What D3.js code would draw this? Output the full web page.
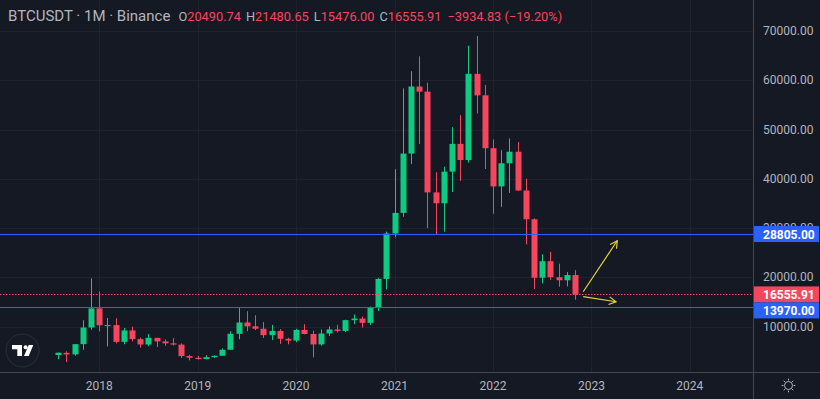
<!DOCTYPE html>
<html lang="en">
<head>
<meta charset="UTF-8">
<title>BTCUSDT 1M</title>
<script src="https://d3js.org/d3.v7.min.js"></script>
<style>
    body { margin: 0; background: #151924; }
    svg { display: block; font-family: Roboto, "Noto Sans", sans-serif; }
</style>
</head>
<body>
<svg id="chart" width="820" height="399"></svg>
<script>
    // monthly candles, Aug 2017 .. Nov 2022
    var firstMonth = "2017-08";
    var open = [4261.48, 4689.89, 4378.49, 6463.00, 9837.00,
        13715.65, 10285.10, 10325.64, 6922.00, 9246.01, 7485.01, 6391.08, 7735.67, 7011.21, 6626.57, 6369.52, 4041.27,
        3701.23, 3434.10, 3814.26, 4102.44, 5321.94, 8555.00, 10854.10, 10080.53, 9588.74, 8289.97, 9140.86, 7540.63,
        7195.24, 9351.71, 8523.61, 6412.14, 8620.00, 9448.27, 9138.08, 11335.46, 11649.51, 10776.59, 13791.00, 19695.87,
        28923.63, 33092.97, 45134.11, 58739.46, 57697.25, 37254.24, 35045.00, 41461.84, 47100.89, 43820.01, 61299.81, 56950.56,
        46216.93, 38466.90, 43160.00, 45510.35, 37631.83, 31801.05, 19942.21, 23296.36, 20048.44, 19422.61, 20490.74];
    var high = [4745.42, 5000.00, 6470.00, 11300.00, 19798.68,
        17176.24, 11786.01, 11711.47, 9759.82, 10020.00, 7786.69, 8491.77, 7750.00, 7410.00, 7680.00, 6615.15, 4312.99,
        4069.80, 4198.00, 4140.00, 5600.00, 9074.26, 13970.00, 13147.08, 12325.00, 10939.92, 10370.00, 9513.68, 7750.00,
        9578.00, 10500.00, 9188.00, 9460.00, 10067.00, 10380.00, 11444.00, 12468.00, 12050.85, 14100.00, 19863.16, 29300.00,
        41950.00, 58352.80, 61844.00, 64854.00, 59500.00, 41330.00, 42448.00, 50500.00, 52920.00, 67000.00, 69000.00, 59053.55,
        47990.00, 45821.00, 48189.84, 47444.11, 40023.77, 31982.97, 24668.00, 25211.32, 22799.00, 21085.00, 21480.65];
    var low = [3400.00, 2817.00, 4110.00, 5325.01, 9380.00,
        9035.00, 6000.01, 6600.10, 6430.00, 7032.95, 5750.00, 6070.00, 5880.00, 6111.00, 6205.00, 3652.66, 3156.26,
        3349.92, 3373.10, 3670.69, 4067.00, 5316.20, 7444.58, 9060.00, 9320.00, 7710.00, 7300.00, 6515.00, 6435.00,
        6871.04, 8445.00, 3782.13, 6150.11, 8117.00, 8833.00, 8893.03, 10518.50, 9825.00, 10374.00, 13195.05, 17572.33,
        28130.00, 32296.16, 43000.00, 47044.01, 30000.00, 28805.00, 29278.00, 37332.70, 39600.00, 43283.03, 53256.64, 42000.30,
        32917.17, 34322.28, 37155.00, 37578.20, 26700.00, 17622.00, 18781.00, 19520.00, 18125.98, 18190.00, 15476.00];
    var close = [4724.89, 4378.51, 6463.00, 9838.96, 13716.36,
        10285.10, 10326.50, 6923.91, 9246.01, 7485.01, 6390.07, 7730.93, 7011.21, 6626.57, 6371.93, 4041.32, 3702.90,
        3434.10, 3813.69, 4105.40, 5320.81, 8555.00, 10854.10, 10080.53, 9588.74, 8289.34, 9140.85, 7546.60, 7195.23,
        9352.89, 8523.61, 6410.44, 8620.00, 9448.27, 9138.55, 11335.46, 11649.51, 10776.59, 13791.00, 19695.87, 28923.63,
        33092.98, 45135.66, 58740.55, 57694.27, 37253.81, 35045.00, 41461.83, 47100.89, 43824.10, 61299.80, 56950.56, 46216.93,
        38466.90, 43160.00, 45510.34, 37630.80, 31801.04, 19942.21, 23293.32, 20050.02, 19422.61, 20490.74, 16555.91];

    var yearLabels = ["2018", "2019", "2020", "2021", "2022", "2023", "2024"];
    var priceTicks = [10000, 20000, 30000, 40000, 50000, 60000, 70000];

    // horizontal levels drawn on the chart
    var blueLevels = [28805.00, 13970.00];
    // yellow arrows: [month index, price]
    var arrows = [
        {from: [64.0, 17100], to: [68.15, 27450]},
        {from: [64.0, 16090], to: [68.0, 15070]}
    ];

    var W = 820, H = 399;
    var plotRight = 753, plotBottom = 372;
    var green = "#0ecb81", red = "#f6465d", blue = "#2962ff";
    var textGrey = "#b2b5be", gridCol = "#1f2330", lineCol = "#434651";

    var candles = open.map(function (o, i) {
        return {i: i, o: o, h: high[i], l: low[i], c: close[i]};
    });

    var x = d3.scaleLinear().domain([-7.1, 84.7]).range([0, plotRight]);
    var y = d3.scaleLinear().domain([0, 70000]).range([376, 31]);

    var svg = d3.select('#chart');
    svg.append('rect').attr('width', W).attr('height', H).attr('fill', '#151924');

    // grid
    var startYear = +firstMonth.slice(0, 4), startMon = +firstMonth.slice(5, 7);
    function yearIndex(yr) { return (yr - startYear) * 12 - (startMon - 1); }

    var grid = svg.append('g');
    grid.selectAll('.vg').data(yearLabels).enter().append('line')
        .attr('x1', d => Math.round(x(yearIndex(+d))) + 0.5)
        .attr('x2', d => Math.round(x(yearIndex(+d))) + 0.5)
        .attr('y1', 0).attr('y2', plotBottom)
        .attr('stroke', gridCol);
    grid.selectAll('.hg').data(priceTicks).enter().append('line')
        .attr('x1', 0).attr('x2', plotRight)
        .attr('y1', d => Math.round(y(d)) + 0.5)
        .attr('y2', d => Math.round(y(d)) + 0.5)
        .attr('stroke', gridCol);

    // candles
    var bw = 6;
    var cg = svg.append('g');
    cg.selectAll('line').data(candles).enter().append('line')
        .attr('x1', d => Math.round(x(d.i)) + 0.5)
        .attr('x2', d => Math.round(x(d.i)) + 0.5)
        .attr('y1', d => y(d.h)).attr('y2', d => y(d.l))
        .attr('stroke', d => d.c >= d.o ? green : red);
    cg.selectAll('rect').data(candles).enter().append('rect')
        .attr('x', d => Math.round(x(d.i)) - bw / 2 + 0.5)
        .attr('width', bw)
        .attr('y', d => y(Math.max(d.o, d.c)))
        .attr('height', d => Math.max(1, Math.abs(y(d.o) - y(d.c))))
        .attr('fill', d => d.c >= d.o ? green : red);

    // levels
    var last = candles[candles.length - 1];
    svg.selectAll('.lvl').data(blueLevels).enter().append('line')
        .attr('x1', 0).attr('x2', plotRight)
        .attr('y1', d => Math.round(y(d)) + 0.5).attr('y2', d => Math.round(y(d)) + 0.5)
        .attr('stroke', blue).attr('stroke-width', 1.2);
    svg.append('line')
        .attr('x1', 0).attr('x2', plotRight)
        .attr('y1', Math.round(y(last.c)) + 0.5).attr('y2', Math.round(y(last.c)) + 0.5)
        .attr('stroke', red).attr('stroke-dasharray', '1.5,1.5');

    // arrows
    var ag = svg.append('g').attr('stroke', '#e6d23c').attr('stroke-width', 1.2).attr('fill', 'none');
    arrows.forEach(function (a) {
        var x1 = x(a.from[0]), y1 = y(a.from[1]), x2 = x(a.to[0]), y2 = y(a.to[1]);
        var ang = Math.atan2(y2 - y1, x2 - x1), len = 8;
        ag.append('line').attr('x1', x1).attr('y1', y1).attr('x2', x2).attr('y2', y2);
        ag.append('path').attr('d', 'M' + (x2 - len * Math.cos(ang - 0.5)) + ',' + (y2 - len * Math.sin(ang - 0.5)) +
            'L' + x2 + ',' + y2 +
            'L' + (x2 - len * Math.cos(ang + 0.5)) + ',' + (y2 - len * Math.sin(ang + 0.5)));
    });

    // axis borders
    svg.append('line').attr('x1', 0).attr('x2', W).attr('y1', plotBottom + 0.5).attr('y2', plotBottom + 0.5).attr('stroke', lineCol);
    svg.append('line').attr('x1', plotRight + 0.5).attr('x2', plotRight + 0.5).attr('y1', 0).attr('y2', H).attr('stroke', lineCol);

    // price axis labels
    svg.selectAll('.pt').data(priceTicks).enter().append('text')
        .attr('x', 763).attr('y', d => y(d) + 4)
        .attr('fill', textGrey).attr('font-size', 12)
        .text(d => d3.format('.2f')(d));

    // year labels
    svg.selectAll('.yl').data(yearLabels).enter().append('text')
        .attr('x', d => x(yearIndex(+d))).attr('y', 390)
        .attr('text-anchor', 'middle')
        .attr('fill', textGrey).attr('font-size', 12)
        .text(d => d);

    // price tags on the axis, pushed apart if they overlap
    var tags = blueLevels.map(v => ({v: v, col: blue})).concat([{v: last.c, col: red}]);
    tags.sort((a, b) => y(a.v) - y(b.v));
    var tagH = 16, prevBottom = -Infinity;
    tags.forEach(function (t) {
        t.cy = Math.max(y(t.v), prevBottom + tagH / 2);
        prevBottom = t.cy + tagH / 2;
    });
    var tg = svg.selectAll('.tag').data(tags).enter().append('g');
    tg.append('rect').attr('x', plotRight + 1).attr('width', 65)
        .attr('y', d => d.cy - tagH / 2).attr('height', tagH)
        .attr('fill', d => d.col);
    tg.append('text').attr('x', 763).attr('y', d => d.cy + 4.5)
        .attr('fill', '#fff').attr('font-size', 12).attr('font-weight', 'bold')
        .text(d => d3.format('.2f')(d.v));

    // header
    var prev = candles[candles.length - 2].c;
    var chg = last.c - prev;
    var hdr = svg.append('text').attr('x', 8).attr('y', 21).attr('fill', textGrey);
    hdr.append('tspan').attr('font-size', 15).text('BTCUSDT · 1M · Binance');
    [['O', last.o], ['H', last.h], ['L', last.l], ['C', last.c]].forEach(function (p, k) {
        hdr.append('tspan').attr('dx', k === 0 ? 8 : 5).attr('font-size', 12.8).attr('fill', textGrey).text(p[0]);
        hdr.append('tspan').attr('font-size', 12.8).attr('fill', red).text(d3.format('.2f')(p[1]));
    });
    hdr.append('tspan').attr('dx', 6).attr('font-size', 12.8).attr('fill', red)
        .text(d3.format('.2f')(chg).replace('-', '−') + ' (' + d3.format('.2f')(chg / prev * 100).replace('-', '−') + '%)');

    // TV logo
    var logo = svg.append('g');
    logo.append('circle').attr('cx', 22.5).attr('cy', 350.5).attr('r', 16.5)
        .attr('fill', '#161a25').attr('stroke', '#2a2e39');
    logo.append('path').attr('fill', '#fff')
        .attr('d', 'M12,345h10v11h-4.7v-6.7H12z M24,356h4.7l4.6,-11h-4.6z');
    logo.append('circle').attr('cx', 25.6).attr('cy', 347.2).attr('r', 2).attr('fill', '#fff');

    // settings sun icon
    var sun = svg.append('g').attr('stroke', textGrey).attr('fill', 'none').attr('transform', 'translate(788.5,385.5)');
    sun.append('circle').attr('r', 4);
    d3.range(8).forEach(function (k) {
        var a = k * Math.PI / 4;
        sun.append('line').attr('x1', 5 * Math.cos(a)).attr('y1', 5 * Math.sin(a))
            .attr('x2', 6.8 * Math.cos(a)).attr('y2', 6.8 * Math.sin(a));
    });
</script>
</body>
</html>
